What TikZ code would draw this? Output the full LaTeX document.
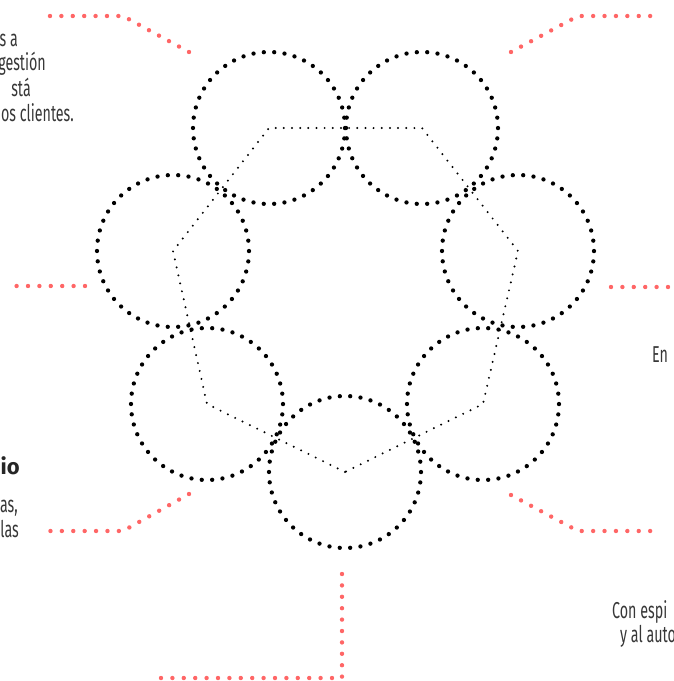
\documentclass[tikz,border=0pt]{standalone}
\usepackage{fontspec}
\setmainfont{Fira Sans}[FakeStretch=0.62]
\newfontfamily\headfont{Fira Sans}
\usetikzlibrary{positioning}
\definecolor{callout}{RGB}{255,102,102}
\definecolor{txtgray}{RGB}{55,55,55}

\begin{document}
\begin{tikzpicture}[
    x=1pt, y=-1pt,
    ring/.style={circle, draw=black, minimum size=152pt, inner sep=0pt, line width=4.3pt, line cap=round, dash pattern=on 0pt off 10.38pt},
    hept/.style={draw=black, line width=2.2pt, line cap=round, dash pattern=on 0pt off 8.16pt},
    lead/.style={draw=callout, line width=4.4pt, line cap=round, dash pattern=on 0pt off 11.4pt},
    frag/.style={font=\fontsize{23}{26}\selectfont, text=txtgray, inner sep=0pt},
    head/.style={font=\headfont\bfseries\fontsize{22}{26}\selectfont, text=black!85, inner sep=0pt}
]
\useasboundingbox (0,0) rectangle (674,681);
\clip (0,0) rectangle (674,681);

% seven dotted rings
\node[ring] (bot) at (345,472) {};
\node[ring] (lowl) at (207,404) {};
\node[ring] (left) at (173,251) {};
\node[ring] (topl) at (269,128) {};
\node[ring] (topr) at (422,128) {};
\node[ring] (right) at (518,251) {};
\node[ring] (lowr) at (483,404) {};

% heptagon through the centres
\draw[hept] (bot.center) -- (lowl.center) -- (left.center) -- (topl.center)
    -- (topr.center) -- (right.center) -- (lowr.center) -- cycle;

% callout leaders
\coordinate (tl1) at (189,52);
\coordinate (tl2) at (123,16);
\coordinate (tl3) at (44,16);
\coordinate (tr1) at (511,52);
\coordinate (tr2) at (578,16);
\coordinate (tr3) at (656,16);
\coordinate (ml1) at (85,286);
\coordinate (ml2) at (10,286);
\coordinate (mr1) at (611,287);
\coordinate (mr2) at (680,287);
\coordinate (bl1) at (189,494);
\coordinate (bl2) at (123,531);
\coordinate (bl3) at (44,531);
\coordinate (br1) at (511,495);
\coordinate (br2) at (578,531);
\coordinate (br3) at (656,531);
\coordinate (bb1) at (342,574);
\coordinate (bb2) at (342,678);
\coordinate (bb3) at (151,678);

\draw[lead] (tl1) -- (tl2) -- (tl3);
\draw[lead] (tr1) -- (tr2) -- (tr3);
\draw[lead] (ml1) -- (ml2);
\draw[lead] (mr1) -- (mr2);
\draw[lead] (bl1) -- (bl2) -- (bl3);
\draw[lead] (br1) -- (br2) -- (br3);
\draw[lead] (bb1) -- (bb2) -- (bb3);

% text fragments at the edges
\node[frag, anchor=base east] (tla) at (18,46) {s a};
\node[frag, anchor=base east] (tlb) at (46,70) {gestión};
\node[frag, anchor=base east] (tlc) at (31,96) {stá};
\node[frag, anchor=base east] (tld) at (74,121) {os clientes.};
\node[head, anchor=base east] (blh) at (20,474) {io};
\node[frag, anchor=base east] (bla) at (18,512) {as,};
\node[frag, anchor=base east] (blb) at (19,537) {las};
\node[frag, anchor=base west] (mra) at (652,362) {En};
\node[frag, anchor=base west] (bra) at (612,618) {Con espi};
\node[frag, anchor=base west] (brb) at (620,642) {y al auto};
\end{tikzpicture}
\end{document}
